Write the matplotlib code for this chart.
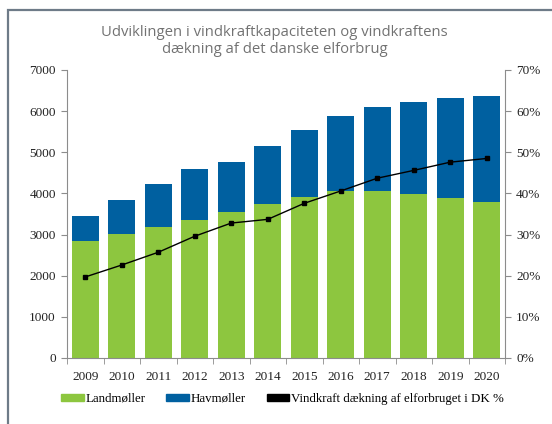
import matplotlib.pyplot as plt
import matplotlib.patches as mpatches
import numpy as np

aar = ["2009", "2010", "2011", "2012", "2013", "2014",
       "2015", "2016", "2017", "2018", "2019", "2020"]
landmoeller = [2850, 3015, 3190, 3355, 3550, 3745, 3915, 4060, 4055, 3990, 3890, 3795]
total = [3455, 3840, 4230, 4595, 4765, 5155, 5540, 5880, 6100, 6220, 6320, 6365]
havmoeller = [t - l for t, l in zip(total, landmoeller)]
daekning = [19.7, 22.6, 25.7, 29.6, 32.8, 33.7, 37.6, 40.6, 43.7, 45.6, 47.6, 48.5]

groen = "#8dc63f"
blaa = "#0060a0"
graa = "#8c8c8c"
serif = "Liberation Serif"

fig = plt.figure(figsize=(5.52, 4.24), dpi=100)
ax = fig.add_axes([67 / 552, 1 - 358 / 424, 438 / 552, 288 / 424])

# Ramme rundt om figuren (skæres af i højre side og bunden)
ramme = mpatches.Rectangle((8 / 552, -0.2), 1.2, 1.2 - 10 / 424,
                           transform=fig.transFigure, fill=False,
                           edgecolor="#6e7b88", linewidth=1.6, clip_on=False)
fig.patches.append(ramme)

x = np.arange(len(aar))
ax.bar(x, landmoeller, width=0.74, color=groen, zorder=2)
ax.bar(x, havmoeller, width=0.74, bottom=landmoeller, color=blaa, zorder=2)

ax.set_xlim(-0.5, len(aar) - 0.5)
ax.set_ylim(0, 7000)
ax.set_yticks(range(0, 7001, 1000))

ax2 = ax.twinx()
ax2.plot(x, daekning, color="black", linewidth=1, marker="s", markersize=2.6, zorder=3)
ax2.set_ylim(0, 70)
ax2.set_yticks(range(0, 71, 10))
ax2.set_yticklabels([f"{v}%" for v in range(0, 71, 10)])

ax.set_xticks(x)
ax.set_xticklabels(aar)
ax.set_xticks(np.arange(-0.5, len(aar)), minor=True)
ax.tick_params(axis="x", which="major", length=0, pad=9)
ax.tick_params(axis="x", which="minor", length=4, color=graa, direction="out")
ax.tick_params(axis="y", length=4, color=graa, direction="out", pad=4)
ax2.tick_params(axis="y", length=4, color=graa, direction="out", pad=4)

for a in (ax, ax2):
    a.spines["top"].set_visible(False)
    for s in ("left", "right", "bottom"):
        a.spines[s].set_color(graa)
    for lbl in a.get_xticklabels() + a.get_yticklabels():
        lbl.set_fontfamily(serif)
        lbl.set_fontsize(9.5)
        lbl.set_color("#222222")
ax.spines["right"].set_visible(False)
ax2.spines["left"].set_visible(False)
ax2.spines["bottom"].set_visible(False)

fig.text(0.497, 0.903, "Udviklingen i vindkraftkapaciteten og vindkraftens\n"
         "dækning af det danske elforbrug", ha="center", va="center",
         fontsize=10.7, color="#727272", family="Open Sans",
         linespacing=1.12)

handles = [mpatches.Patch(color=groen), mpatches.Patch(color=blaa),
           mpatches.Patch(color="black")]
labels = ["Landmøller", "Havmøller", "Vindkraft dækning af elforbruget i DK %"]
fig.legend(handles, labels, loc="center", bbox_to_anchor=(0.512, 1 - 399 / 424),
           ncol=3, frameon=False, prop={"family": serif, "size": 9.3},
           handlelength=1.75, handleheight=0.55, handletextpad=0.15,
           columnspacing=1.6)

fig.savefig("out.png", dpi=100)
